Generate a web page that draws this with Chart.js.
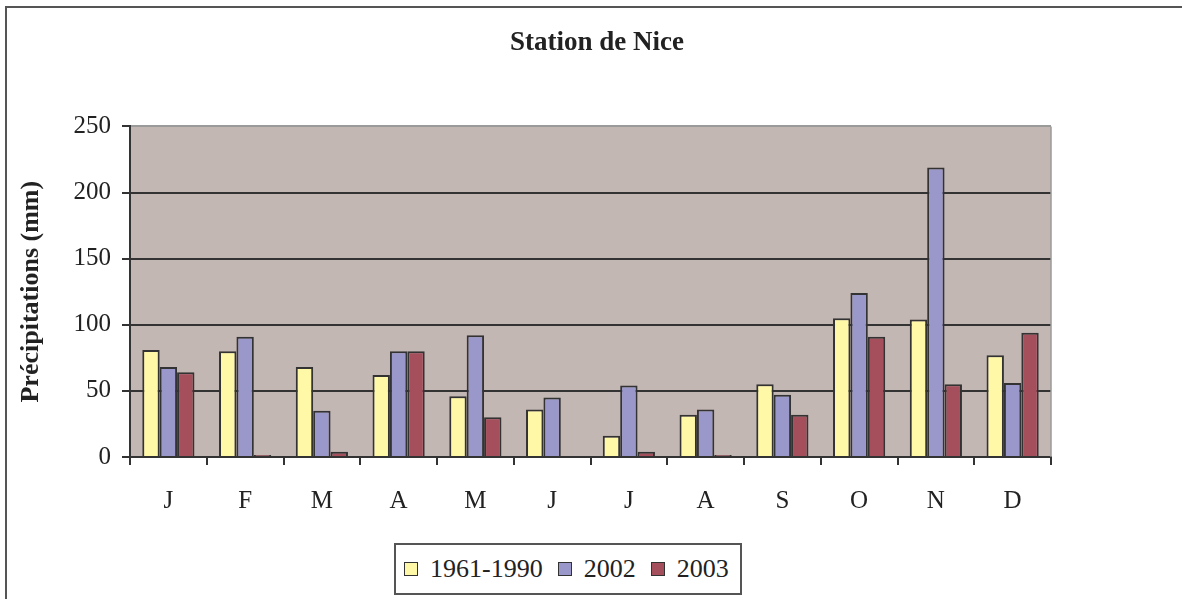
<!DOCTYPE html>
<html>
<head>
<meta charset="utf-8">
<script src="https://cdn.jsdelivr.net/npm/chart.js@4.4.1/dist/chart.umd.min.js"></script>
<style>
  body { margin: 0; background: #fff; }
  #wrap { position: relative; width: 1182px; height: 599px; overflow: hidden; }
  #frame { position: absolute; left: 5px; top: 6px; width: 1300px; height: 800px; border: 2px solid #555; border-right: none; }
  #myChart { position: absolute; left: 0; top: 0; }
  #legend {
    position: absolute; left: 394px; top: 543px; width: 348px; height: 52px;
    box-sizing: border-box; border: 2px solid #555; background: #fff;
    display: flex; align-items: center; padding-left: 8px; white-space: nowrap;
    font-family: "Liberation Serif", serif; font-size: 26px; color: #222;
  }
  .sw { width: 14px; height: 14px; box-sizing: border-box; border: 1.5px solid #333; margin-right: 12px; flex-shrink: 0; }
  .item { display: flex; align-items: center; margin-right: 15px; flex-shrink: 0; }
</style>
</head>
<body>
<div id="wrap">
  <div id="frame"></div>
  <canvas id="myChart" width="1182" height="599"></canvas>
  <div id="legend"></div>
</div>
<script>
const months = ["J", "F", "M", "A", "M", "J", "J", "A", "S", "O", "N", "D"];
const seriesNames = ["1961-1990", "2002", "2003"];
const normals = [81, 80, 68, 62, 46, 36, 16, 32, 55, 105, 104, 77];
const rain2002 = [68, 91, 35, 80, 92, 45, 54, 36, 47, 124, 219, 56];
const rain2003 = [64, 1.5, 4, 80, 30, 0, 4, 1.5, 32, 91, 55, 94];
const yTicks = [0, 50, 100, 150, 200, 250];

const colors = ["#fff8a6", "#9a98cb", "#a64f5c"];
const serif = "Liberation Serif";

const plotBg = {
  id: "plotBg",
  afterLayout(chart) {
    // centre the title on the whole figure, not on the padded area
    chart.titleBlock.left = 0;
    chart.titleBlock.right = 1194;
  },
  beforeDraw(chart) {
    const { ctx, chartArea: a } = chart;
    ctx.save();
    ctx.fillStyle = "#c3b7b4";
    ctx.fillRect(a.left, a.top, a.right - a.left, a.bottom - a.top);
    ctx.restore();
  },
  afterDraw(chart) {
    const { ctx, chartArea: a } = chart;
    ctx.save();
    ctx.strokeStyle = "#9a9a9a";
    ctx.lineWidth = 1.5;
    ctx.beginPath();
    ctx.moveTo(a.right, a.top);
    ctx.lineTo(a.right, a.bottom);
    ctx.stroke();
    ctx.restore();
  },
};

const allSeries = [normals, rain2002, rain2003];

const data = {
  labels: months,
  datasets: allSeries.map((vals, i) => ({
    label: seriesNames[i],
    data: vals,
    backgroundColor: colors[i],
    borderColor: "#333",
    borderWidth: 2,
    categoryPercentage: 0.68,
    barPercentage: 1,
  })),
};

const config = {
  type: "bar",
  data: data,
  options: {
    responsive: false,
    animation: false,
    layout: { padding: { left: 16, right: 131, top: 0, bottom: 82 } },
    plugins: {
      legend: { display: false },
      tooltip: { enabled: false },
      title: {
        display: true,
        text: "Station de Nice",
        color: "#222",
        font: { family: serif, size: 27, weight: "bold" },
        padding: { top: 27, bottom: 67 },
      },
    },
    scales: {
      x: {
        afterFit: (s) => { s.height = 60; },
        border: { color: "#333", width: 2 },
        grid: { drawOnChartArea: false, tickLength: 8, color: "#333", lineWidth: 2 },
        ticks: { color: "#222", padding: 21, font: { family: serif, size: 25 } },
      },
      y: {
        min: 0,
        max: 250,
        afterFit: (s) => { s.width = 114; },
        afterBuildTicks: (s) => { s.ticks = yTicks.map((v) => ({ value: v })); },
        border: { color: "#333", width: 2 },
        grid: {
          color: (c) => (c.tick && c.tick.value === 250 ? "#9a9a9a" : "#333"),
          lineWidth: 2,
          tickLength: 8,
          tickColor: "#333",
        },
        ticks: { color: "#222", padding: 11, font: { family: serif, size: 25 } },
        title: {
          display: true,
          text: "Précipitations (mm)",
          color: "#222",
          padding: 0,
          font: { family: serif, size: 26, weight: "bold" },
        },
      },
    },
  },
  plugins: [plotBg],
};

const myChart = new Chart(document.getElementById("myChart"), config);

const legend = document.getElementById("legend");
seriesNames.forEach((name, i) => {
  const item = document.createElement("div");
  item.className = "item";
  const sw = document.createElement("div");
  sw.className = "sw";
  sw.style.background = colors[i];
  const txt = document.createElement("span");
  txt.textContent = name;
  item.appendChild(sw);
  item.appendChild(txt);
  legend.appendChild(item);
});
</script>
</body>
</html>
